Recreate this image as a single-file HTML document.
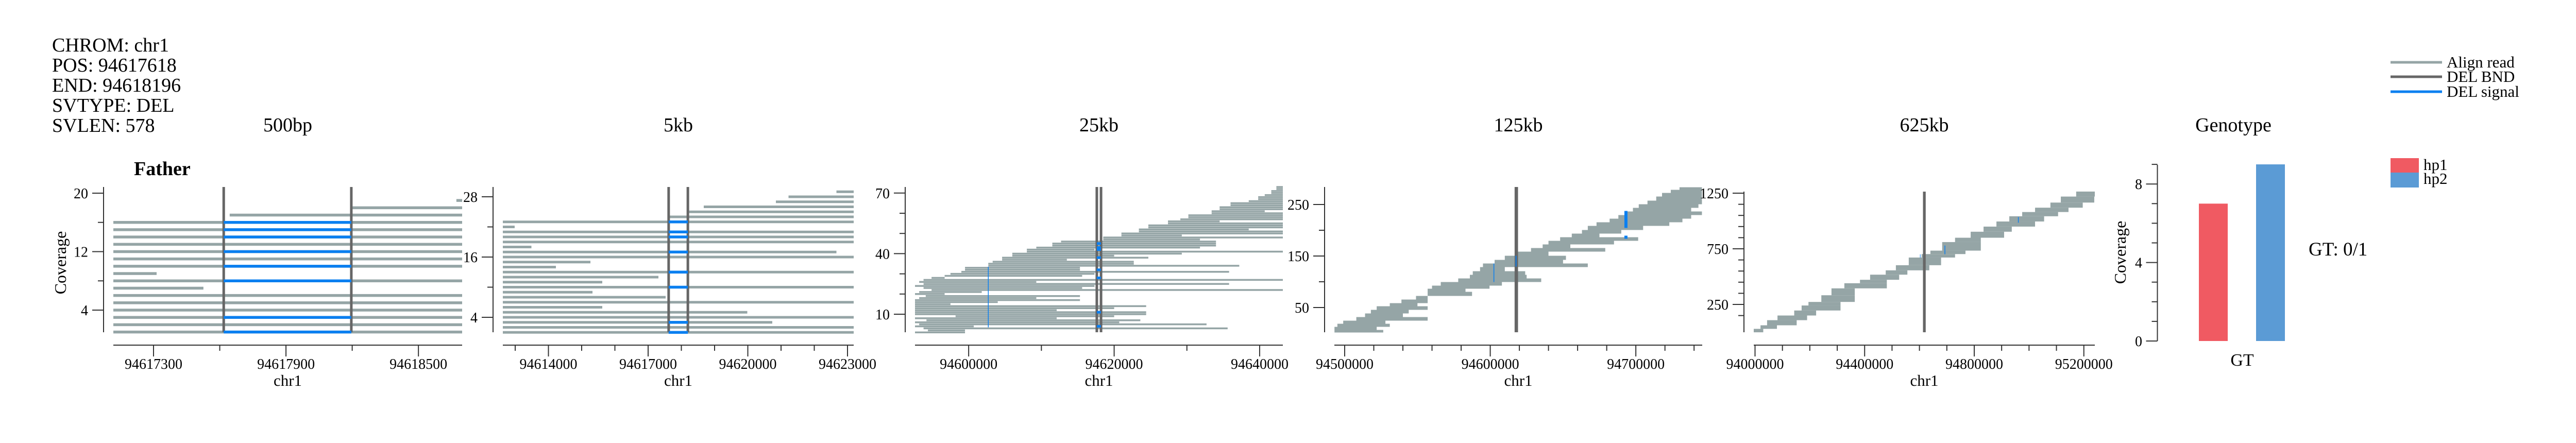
<!DOCTYPE html>
<html><head><meta charset="utf-8">
<style>
html,body{margin:0;padding:0;background:#fff;}
svg{display:block;font-family:"Liberation Serif",serif;}
</style></head>
<body>
<svg id="chart" width="5040" height="860" viewBox="0 0 5040 860" xmlns="http://www.w3.org/2000/svg">
<g font-size="38" fill="#000">
<text x="101" y="100">CHROM: chr1</text>
<text x="101" y="139">POS: 94617618</text>
<text x="101" y="178">END: 94618196</text>
<text x="101" y="217">SVTYPE: DEL</text>
<text x="101" y="256">SVLEN: 578</text>
</g>
<text x="260" y="340" font-size="38" font-weight="bold">Father</text>
<g>
<line x1="4640" y1="121" x2="4740" y2="121" stroke="#95a5a6" stroke-width="5"/>
<line x1="4640" y1="149" x2="4740" y2="149" stroke="#666" stroke-width="5"/>
<line x1="4640" y1="178" x2="4740" y2="178" stroke="#0a7ff0" stroke-width="5"/>
<text x="4749" y="131" font-size="31">Align read</text>
<text x="4749" y="159" font-size="31">DEL BND</text>
<text x="4749" y="188" font-size="31">DEL signal</text>
<rect x="4640" y="307" width="55" height="28" fill="#f05a62"/>
<rect x="4640" y="335" width="55" height="29" fill="#5b9bd5"/>
<text x="4704" y="330" font-size="31">hp1</text>
<text x="4704" y="357" font-size="31">hp2</text>
</g>
<text x="4481" y="496" font-size="37">GT: 0/1</text>
</svg>
<script>
// ---------- Panel 1 (500bp) data: row = index+1 ----------
const p1Starts = [94617118,94617118,94617118,94617118,94617118,94617118,94617118,94617118,94617118,94617118,94617118,94617118,94617118,94617118,94617118,94617118,94617645,94618201,94618672];
const p1Ends   = [94618698,94618698,94618698,94618698,94618698,94618698,94617526,94618698,94617314,94618698,94618698,94618698,94618698,94618698,94618698,94618698,94618698,94618698,94618698];
const p1BlueRows = [1,3,8,10,12,14,15,16];
// ---------- Panel 2 (5kb) ----------
const p2Starts = [94612628,94612628,94612628,94612628,94612628,94612628,94612628,94612628,94612628,94612628,94612628,94612628,94612628,94612628,94612628,94612628,94612628,94612628,94612628,94612628,94612628,94612628,94612628,94617651,94618233,94618674,94620845,94621225,94622667];
const p2Ends   = [94623186,94623186,94620736,94623186,94619984,94615620,94623186,94617527,94615326,94623186,94615620,94617310,94623186,94614225,94615264,94623186,94622667,94613488,94623186,94623186,94623186,94612984,94623186,94623186,94623186,94623186,94623186,94623186,94623186];
const p2BlueRows = [1,3,10,13,17,20,21,23];
// ---------- Panel 3 (25kb), kb offsets from 94,600,000 ----------
const p3Starts = [-7.4,-5.6,-6.2,-7.4,-6.8,-7.4,-5.8,-7.4,-1.8,-7.4,-7.4,-7.4,-7.4,-7.4,-7.4,-7.4,-7.4,-6.8,-5.9,-7.4,-6.8,-5.1,-6.2,-7.4,-6.2,-6.8,-6.2,-5.1,-3.3,-2.5,-1.0,-0.5,-0.5,2.7,2.7,3.3,4.6,4.6,6.0,6.0,8.0,8.0,9.3,11.5,11.5,12.7,18.5,18.5,21.0,21.0,23.4,23.4,24.7,24.7,27.4,27.4,29.1,30.2,30.2,33.4,33.4,34.5,34.5,36.0,36.0,38.5,39.8,39.8,40.7,41.6,41.6,42.3,42.3];
const p3Ends   = [-0.5,-0.5,35.6,0.7,32.7,20.7,23.6,12.1,20.0,24.4,24.4,12.1,20.0,24.4,-2.5,4.0,15.3,9.3,15.3,-3.3,1.8,43.3,15.6,17.3,35.8,9.3,43.3,-3.3,15.6,17.3,35.8,15.3,15.3,37.2,22.7,22.7,13.5,24.7,20.0,29.3,43.3,17.3,31.8,34.0,34.0,34.0,31.8,43.3,29.3,43.3,43.3,38.5,43.3,43.3,43.3,34.5,43.3,43.3,43.3,43.3,40.7,43.3,43.3,43.3,43.3,43.3,43.3,43.3,43.3,43.3,43.3,43.3,43.3];
const p3BlueRows = [4,11,28,32,38,42,43,45];
const p3SignalPos = [2.7];
// ---------- Panel 4 (125kb) read bands, kb offsets from 94,500,000 ----------
const p4Lo    = [2,7,13,19,25,32,39,46,53,59,66,73,81,87,93,100,107,114,121,129,136,143,151,159,166,173,180,187,194,201,209,216,223,230,237,244,251,258,266,273,279];
const p4Hi    = [6,12,18,24,31,38,45,52,58,65,72,80,86,92,99,106,113,120,128,135,142,150,158,165,172,179,186,193,200,208,215,222,229,236,243,250,257,265,272,278,283];
const p4Start = [-7,-7,-5,-1,8,14,18,22,31,39,49,57,57,60,66,78,86,88,93,95,103,110,118,128,136,140,148,156,163,167,173,182,188,194,198,202,208,214,218,224,230];
const p4End   = [26.5,22,31,28,57,40,44,57,50,57,57,87.5,83,99.5,108,135,125,124,110,167,150,152,140,179,155,185,201.6,175,190,205,223,232,238,245.4,238,243,245.4,245.4,245.4,245.4,245.4];
const p4SigPos = [193.2,193.2,102.5,117.7];
const p4SigLo  = [205,184,100,130];
const p4SigHi  = [237,189,135,150];
// ---------- Panel 5 (625kb) read bands, kb offsets from 94,000,000 ----------
const p5Lo    = [0,31,63,109,151,196,241,273,333,395,441,472,518,557,603,672,703,734,811,850,904,950,996,1043,1081,1120,1166,1220];
const p5Hi    = [30,62,108,150,195,240,272,332,394,440,471,517,556,602,671,702,733,810,849,903,949,995,1042,1080,1119,1165,1219,1264];
const p5Start = [-5,20,44,82,143,170,195,242,279,326,383,420,477,514,561,608,640,683,730,787,834,881,928,975,1022,1078,1116,1172];
const p5End   = [30,80,152,190,223,312,312,364,364,481,481,526,556,636,679,730,768,824,824,909,937,1022,1055,1106,1144,1196,1238,1245];
const p5SigPos = [693,961,603];
const p5SigLo  = [702,985,670];
const p5SigHi  = [779,1035,700];
// ---------- Genotype ----------
const gtCategories = ["hp1","hp2"];
const gtValues = [7,9];
const breakpoints = [94617618,94618196];

const NS = "http://www.w3.org/2000/svg";
const svg = document.getElementById("chart");
const C_READ = "#95a5a6", C_BND = "#666666", C_SIG = "#0a7ff0", C_AX = "#333";
function mk(tag, attrs, parent){
  const e = document.createElementNS(NS, tag);
  for (const k in attrs) e.setAttribute(k, attrs[k]);
  (parent || svg).appendChild(e);
  return e;
}
function fmt(v){ return String(v); }

function makePanel(cfg){
  const g = mk("g", {});
  
  
  const xs = v => cfg.x0 + (v - cfg.d0) / (cfg.d1 - cfg.d0) * (cfg.x1 - cfg.x0);
  const ys = v => cfg.yRef - (v - cfg.vRef) * cfg.yPer;
  const t = mk("text", {x:(cfg.x0+cfg.x1)/2, y:255, "font-size":38, "text-anchor":"middle"}, g);
  t.textContent = cfg.title;
  
  
  const ya = mk("line", {x1:cfg.yx, y1:cfg.yTop, x2:cfg.yx, y2:645, stroke:C_AX, "stroke-width":2}, g);
  
  
  cfg.yTicks.forEach(v => {
    const lab = cfg.yLabels.includes(v);
    const tk = mk("line", {x1:cfg.yx-(lab?22:11), y1:ys(v), x2:cfg.yx, y2:ys(v), stroke:C_AX, "stroke-width":2}, g);
    
    
    if (lab){
      const tl = mk("text", {x:cfg.yx-30, y:ys(v)+10, "font-size":28, "text-anchor":"end"}, g);
      tl.textContent = fmt(v);
      
      
    }
  });
  const xa = mk("line", {x1:cfg.x0, y1:670, x2:cfg.x1, y2:670, stroke:C_AX, "stroke-width":2}, g);
  
  
  cfg.xTicks.forEach(v => {
    const lab = cfg.xLabels.includes(v);
    const tk = mk("line", {x1:xs(v), y1:670, x2:xs(v), y2:670+(lab?22:11), stroke:C_AX, "stroke-width":2}, g);
    
    
    if (lab){
      const tl = mk("text", {x:xs(v), y:716, "font-size":28, "text-anchor":"middle"}, g);
      tl.textContent = fmt(v);
      
      
    }
  });
  const xl = mk("text", {x:(cfg.x0+cfg.x1)/2, y:749, "font-size":31, "text-anchor":"middle"}, g);
  xl.textContent = "chr1";
  
  
  const clip = v => Math.max(cfg.d0, Math.min(cfg.d1, v));
  return {g, xs, ys, clip};
}

function drawReads(P, starts, ends, rows, thick, base, scale){
  starts.forEach((s, i) => {
    const a = P.xs(P.clip(base + s*scale)), b = P.xs(P.clip(base + ends[i]*scale));
    const r = rows[i];
    const rect = mk("rect", {x:a, y:P.ys(r)-thick/2, width:Math.max(0,b-a), height:thick, fill:C_READ}, P.g);
    
    
  });
}
function drawBands(P, lo, hi, starts, ends, base, scale){
  lo.forEach((l, i) => {
    const a = P.xs(P.clip(base + starts[i]*scale)), b = P.xs(P.clip(base + ends[i]*scale));
    const y1 = P.ys(hi[i]+0.5), y2 = P.ys(l-0.5);
    const rect = mk("rect", {x:a, y:y1, width:Math.max(0,b-a), height:y2-y1, fill:C_READ}, P.g);
    
    
  });
}
function drawBnd(P, top){
  breakpoints.forEach(bp => {
    const l = mk("line", {x1:P.xs(bp), y1:top, x2:P.xs(bp), y2:645, stroke:C_BND, "stroke-width":5}, P.g);
    
    
  });
}
function drawSpanSignal(P, rows, thick){
  rows.forEach(r => {
    const a = P.xs(breakpoints[0]), b = P.xs(breakpoints[1]);
    const rect = mk("rect", {x:a, y:P.ys(r)-thick/2, width:b-a, height:thick, fill:C_SIG}, P.g);
    
    
  });
}
function drawVSignal(P, pos, lo, hi, w){
  pos.forEach((p, i) => {
    const x = P.xs(p), y1 = P.ys(hi[i]+0.5), y2 = P.ys(lo[i]-0.5);
    const rect = mk("rect", {x:x-w[i]/2, y:y1, width:w[i], height:y2-y1, fill:C_SIG}, P.g);
    
    
  });
}
const rowsOf = arr => arr.map((_, i) => i + 1);
const range = (a, b, s) => { const o=[]; for (let v=a; v<=b+1e-9; v+=s) o.push(Math.round(v)); return o; };

// Panel 1
const P1 = makePanel({name:"panel-500bp", title:"500bp", x0:220, x1:897, d0:94617118, d1:94618698, yx:201, yTop:363,
  yRef:602, vRef:4, yPer:14.19, yTicks:[4,8,12,16,20], yLabels:[4,12,20],
  xTicks:range(94617300,94618500,300), xLabels:[94617300,94617900,94618500]});
drawReads(P1, p1Starts, p1Ends, rowsOf(p1Starts), 5.5, 0, 1);
drawBnd(P1, 363);
drawSpanSignal(P1, p1BlueRows, 5.5);
const cov = mk("text", {x:0, y:0, "font-size":32, "text-anchor":"middle", transform:"translate(128,510) rotate(-90)"});
cov.textContent = "Coverage";



// Panel 2
const P2 = makePanel({name:"panel-5kb", title:"5kb", x0:976, x1:1657, d0:94612628, d1:94623186, yx:957, yTop:363,
  yRef:616, vRef:4, yPer:9.75, yTicks:[4,10,16,22,28], yLabels:[4,16,28],
  xTicks:range(94613000,94623000,1000), xLabels:[94614000,94617000,94620000,94623000]});
drawReads(P2, p2Starts, p2Ends, rowsOf(p2Starts), 5, 0, 1);
drawBnd(P2, 363);
drawSpanSignal(P2, p2BlueRows, 5.5);

// Panel 3
const P3 = makePanel({name:"panel-25kb", title:"25kb", x0:1776, x1:2490, d0:94592624, d1:94643190, yx:1757, yTop:363,
  yRef:610, vRef:10, yPer:3.92, yTicks:range(10,70,10), yLabels:[10,40,70],
  xTicks:range(94600000,94640000,10000), xLabels:[94600000,94620000,94640000]});
drawReads(P3, p3Starts, p3Ends, rowsOf(p3Starts), 3.5, 94600000, 1000);
drawBnd(P3, 363);
p3BlueRows.forEach(r => {
  const rect = mk("rect", {x:P3.xs(94617900)-4, y:P3.ys(r)-2.5, width:8, height:5, fill:C_SIG}, P3.g);
  
  
});
drawVSignal(P3, p3SignalPos.map(k => 94600000 + k*1000), [4], [33], [1.5]);

// Panel 4
const P4 = makePanel({name:"panel-125kb", title:"125kb", x0:2590, x1:3304, d0:94492927, d1:94745600, yx:2571, yTop:363,
  yRef:597, vRef:50, yPer:1.0, yTicks:[50,100,150,200,250], yLabels:[50,150,250],
  xTicks:range(94500000,94740000,20000), xLabels:[94500000,94600000,94700000]});
drawBands(P4, p4Lo, p4Hi, p4Start, p4End, 94500000, 1000);
drawBnd(P4, 363);
drawVSignal(P4, p4SigPos.map(k => 94500000 + k*1000), p4SigLo, p4SigHi, [6,6,1.5,2]);

// Panel 5
const P5 = makePanel({name:"panel-625kb", title:"625kb", x0:3404, x1:4066, d0:93995300, d1:95240000, yx:3385, yTop:372,
  yRef:591, vRef:250, yPer:0.216, yTicks:range(150,1250,100), yLabels:[250,750,1250],
  xTicks:range(94000000,95200000,100000), xLabels:[94000000,94400000,94800000,95200000]});
drawBands(P5, p5Lo, p5Hi, p5Start, p5End, 94000000, 1000);
drawBnd(P5, 372);
drawVSignal(P5, p5SigPos.map(k => 94000000 + k*1000), p5SigLo, p5SigHi, [1.5,1.5,1]);

// Genotype panel
const G = mk("g", {});


const gy = v => 662 - v*38.1;
const gt = mk("text", {x:4335, y:255, "font-size":38, "text-anchor":"middle"}, G);
gt.textContent = "Genotype";


const gax = mk("line", {x1:4187.5, y1:320, x2:4187.5, y2:662, stroke:C_AX, "stroke-width":2}, G);


range(0,9,1).forEach(v => {
  const lab = [0,4,8].includes(v);
  const tk = mk("line", {x1:4187.5-(lab?22:11), y1:gy(v), x2:4187.5, y2:gy(v), stroke:C_AX, "stroke-width":2}, G);
  
  
  if (lab){
    const tl = mk("text", {x:4158, y:gy(v)+10, "font-size":28, "text-anchor":"end"}, G);
    tl.textContent = String(v);
    
    
  }
});
const barX = [4268, 4379], barColors = ["#f05a62", "#5b9bd5"];
gtValues.forEach((v, i) => {
  const b = mk("rect", {x:barX[i], y:gy(v), width:56, height:gy(0)-gy(v), fill:barColors[i]}, G);
  
  
});
const gxl = mk("text", {x:4352, y:710, "font-size":34, "text-anchor":"middle"}, G);
gxl.textContent = "GT";


const gcov = mk("text", {x:0, y:0, "font-size":32, "text-anchor":"middle", transform:"translate(4126,490) rotate(-90)"}, G);
gcov.textContent = "Coverage";


</script>
</body></html>
